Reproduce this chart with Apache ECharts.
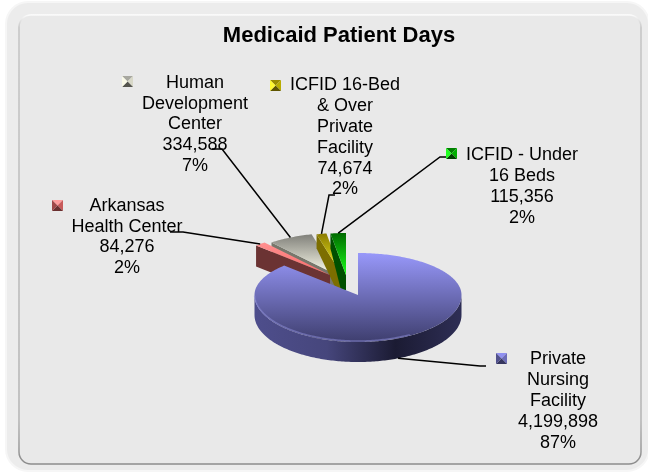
<!DOCTYPE html>
<html>
<head>
<meta charset="utf-8">
<style>
html, body { margin: 0; padding: 0; background: #fff; }
#main { width: 648px; height: 473px; }
</style>
<script src="https://cdn.jsdelivr.net/npm/echarts@6/dist/echarts.min.js"></script>
</head>
<body>
<div id="main"></div>
<script>
const categories = ['Arkansas\nHealth Center', 'Human\nDevelopment\nCenter', 'ICFID 16-Bed\n& Over\nPrivate\nFacility', 'ICFID - Under\n16 Beds', 'Private\nNursing\nFacility'];
const patientDays = [84276, 334588, 74674, 115356, 4199898];
const percentLabels = ['2%', '7%', '2%', '2%', '87%'];

const total = patientDays.reduce((a, b) => a + b, 0);
const last = patientDays.length - 1;

// pie geometry
const cx = 358, cy = 295, rx = 103.5, ryBack = 42, ryFront = 47;
const FONT = '18px "Liberation Sans", Arial, sans-serif';

// per slice look, same order as the arrays above
const looks = [
    { shift: [-28, -20], depth: 21, foot: 0, z: 5, top: ['#ff9090', '#f86a6a'], wall: '#6b3333', key: ['#ff9c9c', '#c85a5a', '#6a3030', '#a04848'] },
    { shift: [-21, -20], depth: 14, foot: 6, z: 2, top: ['#80807a', '#ffffee'], wall: '#77776c', key: ['#a8a8a0', '#d8d8c8', '#55554e', '#fafae8'] },
    { shift: [-16, -20], depth: 14, foot: 6, z: 3, top: ['#8a7a00', '#ffff28'], wall: '#7c6e00', key: ['#9a8c00', '#b8ac00', '#5e5400', '#fff830'] },
    { shift: [-12, -20], depth: 15, foot: 5, z: 4, top: ['#006a00', '#18ff18'], wall: '#005000', key: ['#008000', '#00b000', '#004000', '#20ff20'] },
    { shift: [0, 0], depth: 20, foot: 0, z: 6, top: ['#9898fa', '#3e3e6e'], wall: null, key: ['#9090f0', '#6c6cb8', '#35355f', '#50508c'] }
];
// where the labels and legend keys sit
const labelBoxes = [
    { x: 127, y: 195.5, key: [52, 200], elbow: [[170, 232], [183, 232]] },
    { x: 195, y: 72.5, key: [122, 76], elbow: [[212, 149], [222, 149]] },
    { x: 345, y: 75, key: [270, 80], elbow: [[335, 195], [329, 195]] },
    { x: 522, y: 145, key: [446, 148], elbow: [[446, 157], [440, 157]] },
    { x: 558, y: 349, key: [496, 353], elbow: [[486, 366], [480, 366]] }
];

const sliceAngles = [];
const bigSliceEnd = patientDays[last] / total * 360;
let startAngle = bigSliceEnd;
patientDays.forEach((v, i) => {
    if (i === last) {
        sliceAngles.push([0, bigSliceEnd]);
    } else {
        const end = startAngle + v / total * 360;
        sliceAngles.push([startAngle, end]);
        startAngle = end;
    }
});

function rimPoint(deg, dx, dy) {
    const t = deg * Math.PI / 180;
    const c = Math.cos(t);
    return [cx + dx + rx * Math.sin(t), cy + dy - (c > 0 ? ryBack : ryFront) * c];
}

function arcPoints(a0, a1, dx, dy) {
    const pts = [];
    const n = Math.max(2, Math.ceil(Math.abs(a1 - a0)));
    for (let i = 0; i <= n; i++) {
        pts.push(rimPoint(a0 + (a1 - a0) * i / n, dx, dy));
    }
    return pts;
}

function vGrad(colors) {
    return new echarts.graphic.LinearGradient(0, 0, 0, 1, [
        { offset: 0, color: colors[0] }, { offset: 1, color: colors[1] }
    ]);
}

function renderSlice(params, api) {
    const i = params.dataIndex;
    const look = looks[i];
    const box = labelBoxes[i];
    const [a0, a1] = sliceAngles[i];
    const [dx, dy] = look.shift;
    const depth = look.depth;
    const apex = [cx + dx, cy + dy];
    const children = [];

    if (i === last) {
        // front wall of the big slice
        const front = arcPoints(90, 270, dx, dy);
        const wallPts = front.concat(arcPoints(270, 90, dx, dy + depth));
        children.push({
            type: 'polygon', z2: look.z, shape: { points: wallPts },
            style: {
                fill: new echarts.graphic.LinearGradient(0, 0, 1, 0, [
                    { offset: 0, color: '#4e4e8c' },
                    { offset: 0.35, color: '#46467c' },
                    { offset: 0.68, color: '#1b1b33' },
                    { offset: 1, color: '#2e2e55' }
                ])
            }
        });
    } else {
        // cut face, faces the viewer on these small slices
        const p = rimPoint(a0, dx, dy);
        children.push({
            type: 'polygon', z2: look.z,
            shape: {
                points: [
                    apex, p, [p[0], p[1] + depth],
                    [apex[0] - look.foot, apex[1] + depth],
                    [apex[0], apex[1] + depth]
                ]
            },
            style: { fill: look.wall }
        });
    }

    const topPts = [apex].concat(arcPoints(a0, a1, dx, dy));
    children.push({
        type: 'polygon', z2: look.z, shape: { points: topPts },
        style: { fill: vGrad(look.top) }
    });
    if (i === last) {
        children.push({
            type: 'polyline', z2: look.z, shape: { points: arcPoints(268, 150, 0, -1) },
            style: { fill: null, stroke: 'rgba(140,140,215,0.55)', lineWidth: 1.5 }
        });
    }

    // leader line
    const mid = (a0 + a1) / 2;
    const anchor = rimPoint(mid, dx, i === last ? dy + depth : dy);
    children.push({
        type: 'polyline', z2: 20,
        shape: { points: [box.elbow[0], box.elbow[1], anchor] },
        style: { fill: null, stroke: '#000', lineWidth: 1.5 }
    });

    // legend key, four bevel triangles
    const kx = box.key[0], ky = box.key[1], ks = 11;
    const c = [kx + ks / 2, ky + ks / 2];
    const corners = [[kx, ky], [kx + ks, ky], [kx + ks, ky + ks], [kx, ky + ks]];
    corners.forEach((pt, k) => {
        children.push({
            type: 'polygon', z2: 20,
            shape: { points: [pt, corners[(k + 1) % 4], c] },
            style: { fill: look.key[k] }
        });
    });

    children.push({
        type: 'text', z2: 21,
        style: {
            text: categories[i] + '\n' + echarts.format.addCommas(api.value(0)) + '\n' + percentLabels[i],
            x: box.x, y: box.y,
            align: 'center', verticalAlign: 'top',
            font: FONT, lineHeight: 20.8, fill: '#000'
        }
    });
    return { type: 'group', children: children };
}

const chart = echarts.init(document.getElementById('main'));
chart.setOption({
    animation: false,
    backgroundColor: '#fff',
    title: {
        text: 'Medicaid Patient Days',
        left: 334, top: 20, textAlign: 'center',
        textStyle: { fontFamily: '"Liberation Sans", Arial, sans-serif', fontSize: 22, fontWeight: 'bold', color: '#000' }
    },
    graphic: [
        { type: 'rect', z: -10, shape: { x: 6, y: 2, width: 643, height: 469, r: 22 }, style: { fill: '#ececec', stroke: '#f6f6f6', lineWidth: 2 } },
        {
            type: 'rect', z: -9, shape: { x: 19, y: 15, width: 622, height: 449, r: 12 },
            style: {
                fill: '#e9e9e9', lineWidth: 1.5,
                stroke: new echarts.graphic.LinearGradient(0, 0, 0, 1, [
                    { offset: 0, color: '#ffffff' },
                    { offset: 0.03, color: '#c4c4c4' },
                    { offset: 0.9, color: '#b4b4b4' },
                    { offset: 1, color: '#8c8c8c' }
                ])
            }
        }
    ],
    series: [{
        type: 'custom',
        coordinateSystem: 'none',
        renderItem: renderSlice,
        data: patientDays.map(v => [v]),
        silent: true
    }]
});
</script>
</body>
</html>
